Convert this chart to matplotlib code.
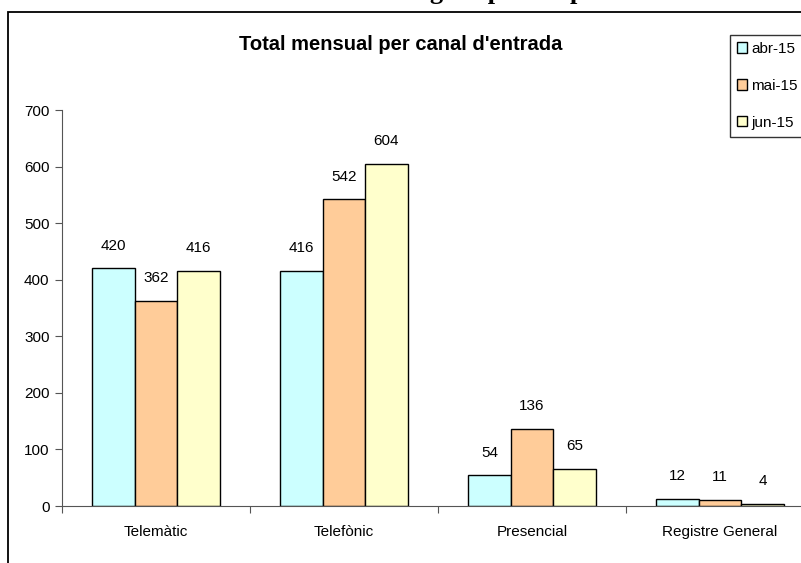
import matplotlib
matplotlib.use('Agg')
import matplotlib.pyplot as plt
import matplotlib.patches as mpatches
import numpy as np

# ---------------------------------------------------------------------------
# Dades del gràfic
# ---------------------------------------------------------------------------
CANALS = ["Telemàtic", "Telefònic", "Presencial", "Registre General"]
MESOS = ["abr-15", "mai-15", "jun-15"]
ABR_15 = [420, 416, 54, 12]
MAI_15 = [362, 542, 136, 11]
JUN_15 = [416, 604, 65, 4]
Y_TICKS = [0, 100, 200, 300, 400, 500, 600, 700]

COLORS = ['#CCFFFF', '#FFCC99', '#FFFFCC']

plt.rcParams['font.family'] = ['Liberation Sans', 'DejaVu Sans']

fig = plt.figure(figsize=(8.01, 5.63), dpi=100)

# marc exterior del gràfic (retallat a la dreta i a baix)
marc = mpatches.Rectangle((8 / 801, -0.05), 1.0, 1 - 12 / 563 + 0.05,
                          transform=fig.transFigure, fill=False,
                          edgecolor='black', linewidth=1.3, clip_on=False)
fig.patches.append(marc)

# títol superior retallat (només se'n veuen els descendents)
serif = ['Liberation Serif', 'DejaVu Serif']
x0 = 408 / 801
y0 = 1 + 1.5 / 563
fig.text(x0, y0, "Total d'entrades ", ha='right', va='baseline',
         fontsize=19, fontweight='bold', family=serif)
fig.text(x0, y0, "segons perfil i procedència", ha='left', va='baseline',
         fontsize=19, fontweight='bold', family=serif)

ax = fig.add_axes([62 / 801, 57 / 563, 752 / 801, 396 / 563])

series = [ABR_15, MAI_15, JUN_15]
x = np.arange(len(CANALS))
amplada = 0.226
for i, (vals, mes) in enumerate(zip(series, MESOS)):
    pos = x + (i - 1) * amplada
    ax.bar(pos, vals, amplada, color=COLORS[i], edgecolor='black',
           linewidth=1.0, label=mes)
    for xb, v in zip(pos, vals):
        ax.text(xb, v + 28, str(v), ha='center', va='bottom', fontsize=11)

ax.set_xlim(-0.5, len(CANALS) - 0.5)
ax.set_ylim(0, 700)
ax.set_yticks(Y_TICKS)
ax.set_yticklabels([str(t) for t in Y_TICKS], fontsize=11)

ax.set_xticks(np.arange(len(CANALS) + 1) - 0.5)
ax.set_xticklabels([])
ax.set_xticks(x, minor=True)
ax.set_xticklabels(CANALS, minor=True, fontsize=11)
ax.tick_params(axis='x', which='minor', length=0, pad=14)
ax.tick_params(axis='x', which='major', length=5, direction='out', color='#555555')
ax.tick_params(axis='y', length=5, direction='out', color='#555555', pad=4)

for s in ['top', 'right']:
    ax.spines[s].set_visible(False)
ax.spines['left'].set_color('#555555')
ax.spines['bottom'].set_color('#555555')

fig.text(401 / 801, 1 - 45 / 563, "Total mensual per canal d'entrada",
         ha='center', va='center', fontsize=14.5, fontweight='bold')

leg = fig.legend(loc='upper left', bbox_to_anchor=(730 / 801, 1 - 35 / 563),
                 fontsize=11, frameon=True, fancybox=False, handlelength=0.65,
                 handleheight=0.65, handletextpad=0.3, borderpad=0.45,
                 labelspacing=1.5, borderaxespad=0)
leg.get_frame().set_edgecolor('black')
leg.get_frame().set_linewidth(1.0)

fig.savefig('out.png', dpi=100)
